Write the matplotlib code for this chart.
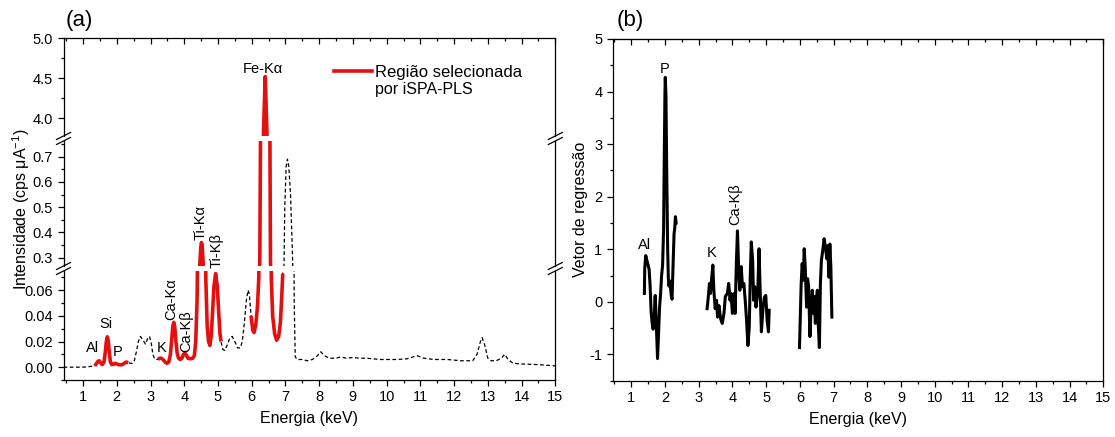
import numpy as np
import matplotlib
matplotlib.use('Agg')
import matplotlib.pyplot as plt
from matplotlib.lines import Line2D
from matplotlib.ticker import MultipleLocator, FormatStrFormatter

plt.rcParams['font.family'] = ['Liberation Sans', 'DejaVu Sans']
plt.rcParams['mathtext.fontset'] = 'custom'
plt.rcParams['mathtext.rm'] = 'Liberation Sans'
plt.rcParams['mathtext.default'] = 'regular'
plt.rcParams['axes.unicode_minus'] = False

# (a) EDXRF spectrum
energy = [0.42, 0.70, 1.00, 1.20, 1.35, 1.40, 1.44, 1.48, 1.52, 1.57, 1.62, 1.66, 1.69, 1.72,
          1.75, 1.78, 1.81, 1.85, 1.90, 1.95, 2.00, 2.05, 2.10, 2.16, 2.22, 2.28, 2.34, 2.40,
          2.46, 2.52, 2.58, 2.64, 2.70, 2.78, 2.85, 2.91, 2.97, 3.02, 3.07, 3.12, 3.17, 3.22,
          3.27, 3.32, 3.37, 3.43, 3.49, 3.54, 3.59, 3.63, 3.66, 3.69, 3.72, 3.75, 3.79, 3.83,
          3.88, 3.93, 3.98, 4.02, 4.06, 4.11, 4.18, 4.25, 4.30, 4.34, 4.38, 4.42, 4.46, 4.49,
          4.51, 4.53, 4.56, 4.60, 4.64, 4.68, 4.72, 4.76, 4.80, 4.84, 4.88, 4.93, 4.98, 5.02,
          5.06, 5.09, 5.14, 5.20, 5.27, 5.34, 5.42, 5.50, 5.58, 5.66, 5.72, 5.78, 5.84, 5.89,
          5.93, 5.98, 6.03, 6.07, 6.12, 6.17, 6.21, 6.24, 6.26, 6.30, 6.35, 6.40, 6.45, 6.50,
          6.54, 6.555, 6.58, 6.62, 6.68, 6.74, 6.80, 6.85, 6.89, 6.92, 6.95, 6.98, 7.02, 7.06,
          7.10, 7.15, 7.20, 7.23, 7.26, 7.29, 7.35, 7.50, 7.65, 7.80, 7.95, 8.05, 8.15, 8.30,
          8.50, 8.65, 8.80, 9.00, 9.20, 9.40, 9.60, 9.80, 10.0, 10.3, 10.6, 10.9, 11.1, 11.4,
          11.8, 12.2, 12.55, 12.68, 12.78, 12.83, 12.90, 13.0, 13.1, 13.25, 13.4, 13.5, 13.6,
          13.75, 14.0, 14.5, 15.0]
intensity = [0.0, 0.0, 0.0, 0.0005, 0.001, 0.003, 0.0045, 0.005, 0.0035, 0.002, 0.004, 0.012,
             0.020, 0.0237, 0.020, 0.011, 0.004, 0.002, 0.0022, 0.003, 0.0025, 0.002, 0.0018,
             0.002, 0.003, 0.004, 0.0035, 0.003, 0.003, 0.005, 0.012, 0.020, 0.024, 0.021,
             0.018, 0.022, 0.024, 0.019, 0.010, 0.0065, 0.006, 0.006, 0.007, 0.007, 0.006,
             0.004, 0.003, 0.004, 0.010, 0.022, 0.032, 0.035, 0.031, 0.021, 0.011, 0.007,
             0.006, 0.007, 0.010, 0.011, 0.0095, 0.007, 0.0065, 0.007, 0.009, 0.020, 0.052,
             0.14, 0.27, 0.34, 0.36, 0.35, 0.28, 0.16, 0.068, 0.032, 0.020, 0.017, 0.025,
             0.043, 0.063, 0.073, 0.063, 0.043, 0.026, 0.020, 0.014, 0.013, 0.017, 0.022,
             0.024, 0.020, 0.015, 0.015, 0.020, 0.034, 0.052, 0.060, 0.057, 0.040, 0.029,
             0.027, 0.033, 0.047, 0.070, 0.30, 0.76, 2.00, 3.85, 4.52, 3.85, 2.00, 0.76, 0.30,
             0.070, 0.040, 0.026, 0.021, 0.024, 0.035, 0.055, 0.073, 0.20, 0.50, 0.66, 0.69,
             0.66, 0.55, 0.35, 0.20, 0.05, 0.008, 0.006, 0.006, 0.005, 0.006, 0.009, 0.012,
             0.009, 0.007, 0.007, 0.008, 0.007, 0.0075, 0.007, 0.007, 0.0065, 0.006, 0.006,
             0.006, 0.0065, 0.009, 0.007, 0.006, 0.006, 0.005, 0.005, 0.010, 0.020, 0.023,
             0.018, 0.007, 0.005, 0.005, 0.007, 0.010, 0.006, 0.003, 0.0025, 0.002, 0.001]
selected_regions = [(1.35, 2.34), (3.22, 5.09), (5.98, 6.92)]

# (b) regression vector, three selected intervals
reg_e1 = [1.39, 1.40, 1.43, 1.46, 1.50, 1.53, 1.56, 1.59, 1.62, 1.65, 1.68, 1.71, 1.73, 1.75,
          1.78, 1.81, 1.84, 1.87, 1.90, 1.93, 1.96, 1.98, 2.00, 2.01, 2.03, 2.05, 2.08, 2.10,
          2.12, 2.14, 2.16, 2.19, 2.21, 2.24, 2.27, 2.29, 2.31, 2.33]
reg_v1 = [0.16, 0.63, 0.88, 0.80, 0.70, 0.62, 0.30, -0.20, -0.40, -0.52, -0.30, 0.12, -0.20,
          -0.55, -1.08, -0.60, -0.10, 0.15, 0.50, 0.70, 1.40, 2.80, 4.00, 4.27, 3.90, 2.60,
          1.00, 0.45, 0.30, 0.40, 0.30, 0.10, 0.05, 0.70, 1.30, 1.40, 1.62, 1.50]
reg_e2 = [3.25, 3.28, 3.32, 3.35, 3.38, 3.42, 3.45, 3.49, 3.53, 3.56, 3.60, 3.65, 3.70, 3.75,
          3.79, 3.85, 3.89, 3.93, 3.96, 4.00, 4.05, 4.08, 4.12, 4.15, 4.19, 4.22, 4.26, 4.30,
          4.34, 4.38, 4.42, 4.46, 4.50, 4.53, 4.56, 4.60, 4.63, 4.66, 4.70, 4.75, 4.79, 4.82,
          4.86, 4.91, 4.95, 4.99, 5.03, 5.07, 5.09]
reg_v2 = [-0.13, 0.06, 0.35, 0.16, 0.41, 0.70, 0.22, -0.13, 0.03, -0.29, -0.07, -0.32, -0.41,
          -0.22, 0.10, 0.16, 0.35, 0.03, 0.16, -0.22, 0.16, -0.22, 0.79, 1.35, 0.54, 0.22,
          0.67, 0.29, 0.35, 0.03, -0.35, -0.83, -0.48, 0.48, 1.14, 0.79, 0.03, 0.29, -0.10,
          0.16, 1.01, 0.29, -0.57, -0.10, 0.09, 0.12, -0.35, -0.57, -0.16]
reg_e3 = [5.99, 6.04, 6.07, 6.10, 6.13, 6.16, 6.20, 6.23, 6.26, 6.30, 6.33, 6.37, 6.40, 6.43,
          6.46, 6.49, 6.52, 6.55, 6.58, 6.61, 6.64, 6.68, 6.72, 6.76, 6.80, 6.83, 6.86, 6.89,
          6.92, 6.95]
reg_v3 = [-0.87, 0.35, 0.73, 0.41, 1.01, 0.66, -0.10, 0.44, 0.29, -0.66, -0.16, 0.22, -0.22,
          0.10, -0.41, 0.03, 0.22, -0.48, -0.87, 0.35, 0.79, 0.98, 1.20, 1.04, 0.82, 1.07,
          0.47, 1.10, 0.66, -0.29]

W, H = 1115, 437
fig = plt.figure(figsize=(W / 100, H / 100), dpi=100)


def box(x0, x1, ytop, ybot):
    return [x0 / W, 1 - ybot / H, (x1 - x0) / W, (ybot - ytop) / H]


ax_hi = fig.add_axes(box(63.5, 555.3, 38, 136))
ax_mid = fig.add_axes(box(63.5, 555.3, 141, 266))
ax_lo = fig.add_axes(box(63.5, 555.3, 271, 380))
ax_b = fig.add_axes(box(612.7, 1103.3, 39, 380.7))

E = np.array(energy)
I = np.array(intensity)
dash = (0, (3, 2))
for ax in (ax_hi, ax_mid, ax_lo):
    ax.plot(E, I, color='black', lw=0.9, linestyle=dash)
    for lo, hi in selected_regions:
        m = (E >= lo) & (E <= hi)
        ax.plot(E[m], I[m], color='#e41010', lw=2.6, solid_capstyle='butt')
    ax.set_xlim(0.42, 15)
    ax.xaxis.set_major_locator(MultipleLocator(1))
    ax.xaxis.set_minor_locator(MultipleLocator(0.5))
    ax.tick_params(axis='both', which='both', labelsize=10.5, width=0.9)
    ax.tick_params(axis='y', which='both', direction='out', left=True, right=False)
    ax.tick_params(axis='y', which='major', length=4)
    ax.tick_params(axis='y', which='minor', length=2.5)
    for s in ax.spines.values():
        s.set_linewidth(0.9)

ax_hi.set_ylim(3.78, 5.0)
ax_hi.yaxis.set_major_locator(MultipleLocator(0.5))
ax_hi.yaxis.set_minor_locator(MultipleLocator(0.25))
ax_hi.yaxis.set_major_formatter(FormatStrFormatter('%.1f'))
ax_hi.spines['bottom'].set_visible(False)
ax_hi.tick_params(axis='x', which='both', bottom=False, top=True, direction='in',
                  labelbottom=False)
ax_hi.tick_params(axis='x', which='major', length=4)
ax_hi.tick_params(axis='x', which='minor', length=2.5)

ax_mid.set_ylim(0.267, 0.762)
ax_mid.yaxis.set_major_locator(MultipleLocator(0.1))
ax_mid.yaxis.set_minor_locator(MultipleLocator(0.05))
ax_mid.yaxis.set_major_formatter(FormatStrFormatter('%.1f'))
ax_mid.spines['top'].set_visible(False)
ax_mid.spines['bottom'].set_visible(False)
ax_mid.tick_params(axis='x', which='both', bottom=False, top=False, labelbottom=False)

ax_lo.set_ylim(-0.01, 0.075)
ax_lo.yaxis.set_major_locator(MultipleLocator(0.02))
ax_lo.yaxis.set_minor_locator(MultipleLocator(0.01))
ax_lo.yaxis.set_major_formatter(FormatStrFormatter('%.2f'))
ax_lo.spines['top'].set_visible(False)
ax_lo.tick_params(axis='x', which='both', top=False, direction='out')
ax_lo.tick_params(axis='x', which='major', length=4)
ax_lo.tick_params(axis='x', which='minor', length=2.5)
ax_lo.set_xlabel('Energia (keV)', fontsize=11.5, labelpad=5)

fig.text(21 / W, 1 - 209 / H, 'Intensidade (cps μA$^{-1}$)', rotation=90,
         ha='center', va='center', fontsize=11.5)


# break marks on both sides of panel (a)
def break_mark(xp, yp):
    for off in (-2.5, 2.5):
        fig.add_artist(Line2D([(xp - 7) / W, (xp + 7) / W],
                              [1 - (yp + off + 3.5) / H, 1 - (yp + off - 3.5) / H],
                              color='black', lw=0.9))


for xp in (63.5, 555.3):
    for yp in (138.5, 268.5):
        break_mark(xp, yp)

# labels (a)
ax_hi.text(6.32, 4.61, 'Fe-Kα', ha='center', va='center', fontsize=10.5)
ax_lo.text(1.28, 0.015, 'Al', ha='center', va='center', fontsize=10.5)
ax_lo.text(1.68, 0.0336, 'Si', ha='center', va='center', fontsize=10.5)
ax_lo.text(2.03, 0.0119, 'P', ha='center', va='center', fontsize=10.5)
ax_lo.text(3.34, 0.0153, 'K', ha='center', va='center', fontsize=10.5)
ax_lo.text(3.6, 0.037, 'Ca-Kα', rotation=90, ha='center', va='bottom', fontsize=10.5)
ax_lo.text(4.05, 0.012, 'Ca-Kβ', rotation=90, ha='center', va='bottom', fontsize=10.5)
ax_mid.text(4.5, 0.37, 'Ti-Kα', rotation=90, ha='center', va='bottom', fontsize=10.5)
ax_mid.text(4.96, 0.26, 'Ti-Kβ', rotation=90, ha='center', va='bottom', fontsize=10.5)

ax_hi.legend(handles=[Line2D([], [], color='#e41010', lw=2.6)], labels=['Região selecionada'],
             loc='center left', bbox_to_anchor=(0.55, 0.653), frameon=False,
             handlelength=2.3, handletextpad=0.15, borderpad=0, borderaxespad=0, fontsize=12)
ax_hi.text(0.634, 0.47, 'por iSPA-PLS', transform=ax_hi.transAxes, ha='left', va='center',
           fontsize=11.5)

fig.text(66 / W, 1 - 31 / H, '(a)', fontsize=16, ha='left', va='bottom')
fig.text(617 / W, 1 - 31 / H, '(b)', fontsize=16, ha='left', va='bottom')

# (b)
nan = [np.nan]
reg_e = reg_e1 + nan + reg_e2 + nan + reg_e3
reg_v = reg_v1 + nan + reg_v2 + nan + reg_v3
ax_b.plot(reg_e, reg_v, color='black', lw=2.2)
ax_b.set_xlim(0.45, 15)
ax_b.set_ylim(-1.5, 5)
ax_b.xaxis.set_major_locator(MultipleLocator(1))
ax_b.xaxis.set_minor_locator(MultipleLocator(0.5))
ax_b.yaxis.set_major_locator(MultipleLocator(1))
ax_b.yaxis.set_minor_locator(MultipleLocator(0.5))
ax_b.tick_params(axis='both', which='both', labelsize=10.5, width=0.9)
ax_b.tick_params(axis='y', which='both', direction='out', right=False)
ax_b.tick_params(axis='x', which='both', direction='out', top=False)
ax_b.tick_params(which='major', length=4)
ax_b.tick_params(which='minor', length=2.5)
top_b = ax_b.secondary_xaxis('top')
top_b.xaxis.set_major_locator(MultipleLocator(1))
top_b.xaxis.set_minor_locator(MultipleLocator(0.5))
top_b.tick_params(axis='x', which='both', direction='in', labeltop=False, width=0.9)
top_b.tick_params(axis='x', which='major', length=4)
top_b.tick_params(axis='x', which='minor', length=2.5)
for s in ax_b.spines.values():
    s.set_linewidth(0.9)
ax_b.set_xlabel('Energia (keV)', fontsize=11.5, labelpad=5)
ax_b.set_ylabel('Vetor de regressão', fontsize=11.5, labelpad=1)

ax_b.text(1.98, 4.43, 'P', ha='center', va='center', fontsize=10.5)
ax_b.text(1.40, 1.08, 'Al', ha='center', va='center', fontsize=10.5)
ax_b.text(3.38, 0.93, 'K', ha='center', va='center', fontsize=10.5)
ax_b.text(4.07, 1.46, 'Ca-Kβ', rotation=90, ha='center', va='bottom', fontsize=10.5)

fig.savefig('out.png', dpi=100)
